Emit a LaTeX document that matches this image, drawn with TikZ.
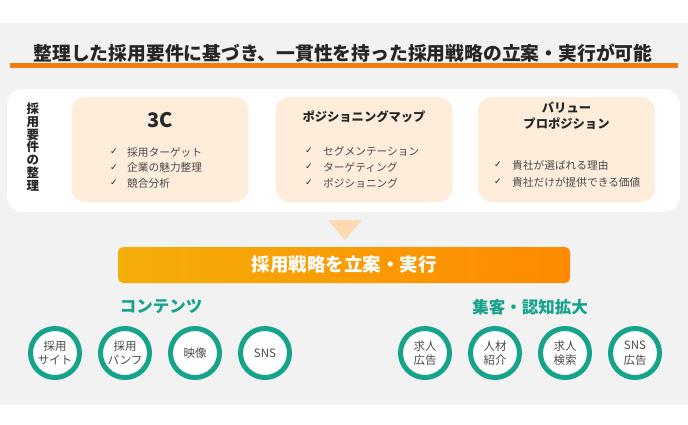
\documentclass[tikz,border=0pt]{standalone}
\usepackage{fontspec}
\setmainfont{Noto Sans CJK JP}
\newfontfamily\symfont{DejaVu Sans}
\definecolor{bggray}{HTML}{F2F2F2}
\definecolor{peach}{HTML}{FDEDDA}
\definecolor{tri}{HTML}{FDDAB4}
\definecolor{lineor}{HTML}{F27A12}
\definecolor{barA}{HTML}{F4AE08}
\definecolor{barB}{HTML}{FF8A00}
\definecolor{teal}{HTML}{16A38B}
\definecolor{dark}{HTML}{262626}
\definecolor{itemgray}{HTML}{4A4A4A}
\tikzset{
  card/.style={fill=peach, rounded corners=14pt, minimum width=177pt, minimum height=105pt, inner sep=0pt},
  cardtitle/.style={font=\bfseries\fontsize{#1}{#1}\selectfont, text=dark, align=center, inner sep=0pt},
  item/.style={font=\fontsize{10.7}{14}\selectfont, text=itemgray, anchor=west, inner sep=0pt},
  chk/.style={font=\symfont\fontsize{9}{9}\selectfont, text=dark, inner sep=0pt},
  ring/.style={circle, draw=teal, line width=5pt, fill=white, minimum size=49pt, inner sep=0pt, align=center, font=\fontsize{11.5}{14.5}\selectfont, text=itemgray},
  grouphead/.style={font=\bfseries\fontsize{16.5}{16.5}\selectfont, text=teal, inner sep=0pt}
}
\begin{document}
\begin{tikzpicture}[x=1pt,y=-1pt]
\useasboundingbox (0,0) rectangle (688,424);
\fill[white] (0,0) rectangle (688,424);
\fill[bggray] (0,23) rectangle (688,405);
% title
\draw[lineor, line width=5pt] (10,65.5) -- (678,65.5);
\node[font=\bfseries\fontsize{18.8}{18.8}\selectfont, text=dark, inner sep=0pt] (title) at (343,53) {整理した採用要件に基づき、一貫性を持った採用戦略の立案・実行が可能};
% white panel
\node[fill=white, rounded corners=16pt, minimum width=673pt, minimum height=123pt, inner sep=0pt] (panel) at (343.5,150.5) {};
\node[font=\bfseries\fontsize{12.5}{12.8}\selectfont, text=dark, align=center, inner sep=0pt] (vlabel) at (33,147) {採\\用\\要\\件\\の\\整\\理};
% card 1
\node[card] (c1) at (160,149.5) {};
\node[cardtitle=20] (c1t) at (160,120) {3C};
\node[chk] (k11) at (114,152) {✓};
\node[item] (i11) at (127,152) {採用ターゲット};
\node[chk] (k12) at (114,167.5) {✓};
\node[item] (i12) at (127,167.5) {企業の魅力整理};
\node[chk] (k13) at (114,183) {✓};
\node[item] (i13) at (127,183) {競合分析};
% card 2
\node[card] (c2) at (364,149.5) {};
\node[cardtitle=12.3] (c2t) at (364,117) {ポジショニングマップ};
\node[chk] (k21) at (309,151) {✓};
\node[item] (i21) at (323,151) {セグメンテーション};
\node[chk] (k22) at (309,167) {✓};
\node[item] (i22) at (323,167) {ターゲティング};
\node[chk] (k23) at (309,183) {✓};
\node[item] (i23) at (323,183) {ポジショニング};
% card 3
\node[card] (c3) at (566.5,149.5) {};
\node[cardtitle=12, font=\bfseries\fontsize{12.3}{16}\selectfont] (c3t) at (566.5,116) {バリュー\\プロポジション};
\node[chk] (k31) at (498,165) {✓};
\node[item] (i31) at (512,165) {貴社が選ばれる理由};
\node[chk] (k32) at (498,182) {✓};
\node[item] (i32) at (512,182) {貴社だけが提供できる価値};
% triangle
\fill[tri] (328,220) -- (362,220) -- (345,240) -- cycle;
% orange bar
\node[rounded corners=5pt, left color=barA, right color=barB, minimum width=452pt, minimum height=36pt, inner sep=0pt, font=\bfseries\fontsize{18.5}{18.5}\selectfont, text=white] (bar) at (344,265) {採用戦略を立案・実行};
% group heads
\node[grouphead] (g1) at (161,307) {コンテンツ};
\node[grouphead] (g2) at (530,307) {集客・認知拡大};
% circles
\node[ring] (r1) at (55,353) {採用\\サイト};
\node[ring] (r2) at (125,353) {採用\\パンフ};
\node[ring] (r3) at (195,353) {映像};
\node[ring] (r4) at (265,353) {SNS};
\node[ring] (r5) at (425,353) {求人\\広告};
\node[ring] (r6) at (495,353) {人材\\紹介};
\node[ring] (r7) at (565,353) {求人\\検索};
\node[ring] (r8) at (635,353) {SNS\\広告};
\end{tikzpicture}
\end{document}
